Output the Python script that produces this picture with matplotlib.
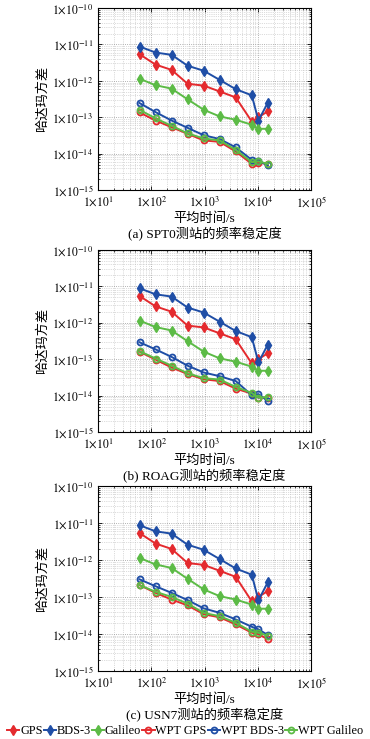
import matplotlib
matplotlib.use("Agg")
import matplotlib.pyplot as plt
from matplotlib.ticker import FixedLocator, LogLocator, NullFormatter
import numpy as np

plt.rcParams['font.family'] = ['Liberation Serif', 'Noto Sans CJK SC']
plt.rcParams['mathtext.fontset'] = 'stix'

tau = [60, 120, 240, 480, 960, 1920, 3840, 7680, 10240, 15360]

# shared (same in all three panels)
gps = [5.4e-12, 2.8e-12, 2.0e-12, 8.3e-13, 7.4e-13, 5.1e-13, 3.5e-13, 7.6e-14, 1.0e-13, 1.45e-13]
bds = [8.8e-12, 6.0e-12, 5.2e-12, 2.6e-12, 1.9e-12, 1.06e-12, 5.9e-13, 4.0e-13, 8.1e-14, 2.5e-13]
gal = [1.14e-12, 7.6e-13, 6.1e-13, 3.1e-13, 1.6e-13, 1.05e-13, 8.5e-14, 6.2e-14, 4.8e-14, 4.8e-14]

# panel a: SPT0
a_wgps = [1.35e-13, 8.1e-14, 5.3e-14, 3.5e-14, 2.3e-14, 2.1e-14, 1.14e-14, 5.2e-15, 5.6e-15, 5.2e-15]
a_wbds = [2.45e-13, 1.38e-13, 8.1e-14, 5.1e-14, 3.2e-14, 2.5e-14, 1.48e-14, 6.7e-15, 6.4e-15, 4.7e-15]
a_wgal = [1.6e-13, 9.3e-14, 5.8e-14, 3.6e-14, 2.6e-14, 2.3e-14, 1.26e-14, 5.8e-15, 6.1e-15, 5.2e-15]

# panel b: ROAG
b_wgps = [1.6e-13, 9.7e-14, 5.9e-14, 3.9e-14, 2.8e-14, 2.5e-14, 1.55e-14, 1.13e-14, 8.8e-15, 8.8e-15]
b_wbds = [2.9e-13, 1.85e-13, 1.15e-13, 6.6e-14, 4.3e-14, 3.4e-14, 2.5e-14, 1.02e-14, 1.1e-14, 7.1e-15]
b_wgal = [1.66e-13, 1.04e-13, 6.6e-14, 4.1e-14, 3.0e-14, 2.75e-14, 1.73e-14, 1.18e-14, 8.8e-15, 9.1e-15]

# panel c: USN7
c_wgps = [2.1e-13, 1.29e-13, 8.5e-14, 5.9e-14, 3.4e-14, 2.8e-14, 1.8e-14, 1.07e-14, 9.8e-15, 7.1e-15]
c_wbds = [3.0e-13, 1.95e-13, 1.29e-13, 8.2e-14, 4.9e-14, 3.7e-14, 2.45e-14, 1.55e-14, 1.32e-14, 9.3e-15]
c_wgal = [2.1e-13, 1.38e-13, 1.0e-13, 6.6e-14, 3.7e-14, 3.0e-14, 2.0e-14, 1.14e-14, 1.07e-14, 8.9e-15]

captions = ['(a) SPT0测站的频率稳定度', '(b) ROAG测站的频率稳定度', '(c) USN7测站的频率稳定度']
labels = ['GPS', 'BDS-3', 'Galileo', 'WPT GPS', 'WPT BDS-3', 'WPT Galileo']
xticks = [1e1, 1e2, 1e3, 1e4, 1e5]
xticklabels = [r'$1{\times}10^{1}$', r'$1{\times}10^{2}$', r'$1{\times}10^{3}$', r'$1{\times}10^{4}$', r'$1{\times}10^{5}$']
yticks = [1e-15, 1e-14, 1e-13, 1e-12, 1e-11, 1e-10]
yticklabels = [r'$1{\times}10^{-15}$', r'$1{\times}10^{-14}$', r'$1{\times}10^{-13}$', r'$1{\times}10^{-12}$', r'$1{\times}10^{-11}$', r'$1{\times}10^{-10}$']

RED = '#e42a2e'
BLUE = '#1f4ea6'
GREEN = '#5cbb46'

fig = plt.figure(figsize=(3.70, 7.39), dpi=100)
positions = [(0.265, 0.743, 0.576, 0.246), (0.265, 0.4154, 0.576, 0.2466), (0.265, 0.0924, 0.576, 0.2496)]
panels = [(a_wgps, a_wbds, a_wgal), (b_wgps, b_wbds, b_wgal), (c_wgps, c_wbds, c_wgal)]

handles = None
for pos, (wg, wb, wl), cap in zip(positions, panels, captions):
    ax = fig.add_axes(pos)
    ax.set_xscale('log')
    ax.set_yscale('log')
    ax.set_xlim(1e1, 1e5)
    ax.set_ylim(1e-15, 1e-10)
    hs = []
    for vals, col in [(gps, RED), (bds, BLUE), (gal, GREEN)]:
        h, = ax.plot(tau, vals, '-', color=col, lw=1.4, marker='d', ms=5,
                     mfc=col, mec=col, mew=1.0)
        hs.append(h)
    for vals, col in [(wg, RED), (wb, BLUE), (wl, GREEN)]:
        h, = ax.plot(tau, vals, '-', color=col, lw=1.4, marker='o', ms=4.3,
                     mfc='none', mec=col, mew=1.3)
        hs.append(h)
    handles = hs
    ax.xaxis.set_major_locator(FixedLocator(xticks))
    ax.set_xticklabels(xticklabels)
    ax.yaxis.set_major_locator(FixedLocator(yticks))
    ax.set_yticklabels(yticklabels)
    ax.xaxis.set_minor_locator(LogLocator(base=10, subs=np.arange(2, 10)))
    ax.yaxis.set_minor_locator(LogLocator(base=10, subs=np.arange(2, 10)))
    ax.xaxis.set_minor_formatter(NullFormatter())
    ax.yaxis.set_minor_formatter(NullFormatter())
    ax.grid(True, which='major', linestyle=':', color='#999999', lw=0.6)
    ax.grid(True, which='minor', linestyle=':', color='#bbbbbb', lw=0.5)
    ax.set_axisbelow(True)
    ax.tick_params(which='both', direction='in', top=True, right=True, labelsize=8.5)
    ax.tick_params(which='major', length=3, width=0.6)
    ax.tick_params(which='minor', length=1.5, width=0.5)
    for s in ax.spines.values():
        s.set_linewidth(0.8)
    ax.set_xlabel('平均时间/s', fontsize=9.5, labelpad=2)
    ax.set_ylabel('哈达玛方差', fontsize=9.5, labelpad=2)
    ax.text(0.5, -0.205, cap, transform=ax.transAxes, ha='center', va='top', fontsize=9.5)

fig.legend(handles, labels, loc='center', bbox_to_anchor=(0.5, 0.011), ncol=6,
           frameon=False, fontsize=8.8, handlelength=1.0, handletextpad=0.05,
           columnspacing=0.1, borderaxespad=0, borderpad=0)

fig.savefig('out.png', dpi=100)
